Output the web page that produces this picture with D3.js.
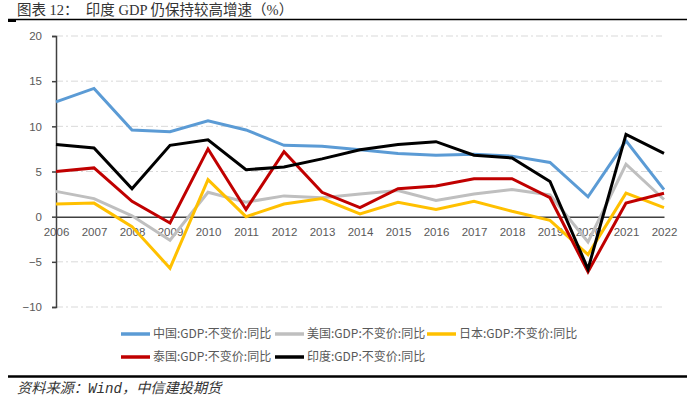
<!DOCTYPE html>
<html><head><meta charset="utf-8">
<script src="https://cdn.jsdelivr.net/npm/d3@7"></script>
<style>
body{margin:0;background:#fff;}
svg{display:block;}
</style></head>
<body>
<svg id="c" width="700" height="399"></svg>
<script>
const years = ["2006","2007","2008","2009","2010","2011","2012","2013","2014","2015","2016","2017","2018","2019","2020","2021","2022"];
const china    = [12.7,14.2,9.6,9.4,10.6,9.6,7.9,7.8,7.4,7.0,6.8,6.9,6.7,6.0,2.2,8.4,3.0];
const usa      = [2.8,2.0,0.1,-2.6,2.7,1.6,2.3,2.1,2.5,2.9,1.8,2.5,3.0,2.4,-2.8,5.8,1.9];
const japan    = [1.4,1.5,-1.1,-5.7,4.1,0.0,1.4,2.0,0.3,1.6,0.8,1.7,0.6,-0.4,-4.2,2.6,1.0];
const thailand = [5.0,5.4,1.7,-0.7,7.5,0.8,7.2,2.7,1.0,3.1,3.4,4.2,4.2,2.1,-6.1,1.5,2.6];
const india    = [8.0,7.6,3.1,7.9,8.5,5.2,5.5,6.4,7.4,8.0,8.3,6.8,6.5,3.9,-5.8,9.1,7.0];
const seriesNames = ["中国:GDP:不变价:同比","美国:GDP:不变价:同比","日本:GDP:不变价:同比","泰国:GDP:不变价:同比","印度:GDP:不变价:同比"];
const yTicks = [-10,-5,0,5,10,15,20];
const titleText = "图表 12：  印度 GDP 仍保持较高增速（%）";
const sourceText = "资料来源：Wind，中信建投期货";

const colors = ["#5B9BD5","#BFBFBF","#FFC000","#C00000","#000000"];
const seriesData = [china, usa, japan, thailand, india];

const svg = d3.select("#c");
const x = d3.scalePoint().domain(years).range([56, 664]);
const y = d3.scaleLinear().domain([-10, 20]).range([307, 36]);

// title
svg.append("text").attr("x", 17).attr("y", 15)
  .attr("font-family", "'Liberation Serif','Noto Sans CJK SC',serif")
  .attr("font-size", 14.5).attr("fill", "#333")
  .style("white-space","pre")
  .text(titleText);
svg.append("line").attr("x1", 8).attr("x2", 687).attr("y1", 19.5).attr("y2", 19.5)
  .attr("stroke", "#000").attr("stroke-width", 1.5);
svg.append("rect").attr("x", 8).attr("y", 19).attr("width", 8).attr("height", 3).attr("fill","#000");

// gridlines
svg.append("g").selectAll("line").data(yTicks.filter(d => d !== 0)).join("line")
  .attr("x1", 56).attr("x2", 662)
  .attr("y1", d => y(d)).attr("y2", d => y(d))
  .attr("stroke", "#D9D9D9").attr("stroke-width", 1)
  .attr("stroke-dasharray", "7,3,2,3");

// y axis
const yAxis = d3.axisLeft(y).tickValues(yTicks).tickSize(4).tickPadding(10);
const gy = svg.append("g").attr("transform", "translate(56,0)").call(yAxis);
gy.select(".domain").attr("stroke", "#404040").attr("stroke-width", 1.5);
gy.selectAll(".tick line").attr("stroke", "#404040").attr("stroke-width", 1.5);
gy.selectAll(".tick text").attr("fill", "#595959")
  .attr("font-family", "'Liberation Sans',Arial,sans-serif").attr("font-size", 11.5);

// x axis at zero
const xAxis = d3.axisBottom(x).tickSize(0).tickPadding(11);
const gx = svg.append("g").attr("transform", `translate(0,${y(0)})`).call(xAxis);
gx.select(".domain").attr("stroke", "#404040").attr("stroke-width", 1.5);
gx.selectAll(".tick text").attr("fill", "#595959")
  .attr("font-family", "'Liberation Sans',Arial,sans-serif").attr("font-size", 11.5);

// lines
const line = d3.line().x((d, i) => x(years[i])).y(d => y(d));
svg.append("g").selectAll("path").data(seriesData).join("path")
  .attr("d", d => line(d))
  .attr("fill", "none")
  .attr("stroke", (d, i) => colors[i])
  .attr("stroke-width", 3)
  .attr("stroke-linejoin", "miter");

// legend
const legendPos = [
  {lx:121, ly:334},{lx:275, ly:334},{lx:427, ly:334},
  {lx:121, ly:357},{lx:275, ly:357}
];
const lg = svg.append("g").selectAll("g").data(seriesNames).join("g")
  .attr("transform", (d, i) => `translate(${legendPos[i].lx},${legendPos[i].ly})`);
lg.append("line").attr("x1", 0).attr("x2", 29).attr("y1", 0).attr("y2", 0)
  .attr("stroke", (d, i) => colors[i]).attr("stroke-width", 3.5);
lg.append("text").attr("x", 32).attr("y", 0).attr("dy", "0.36em")
  .attr("font-family", "'Noto Sans CJK SC',sans-serif").attr("font-size", 12)
  .attr("fill", "#595959").text(d => d);

// bottom rule and source
svg.append("line").attr("x1", 8).attr("x2", 687).attr("y1", 376.5).attr("y2", 376.5)
  .attr("stroke", "#000").attr("stroke-width", 2.5);
svg.append("text").attr("x", 17).attr("y", 393)
  .attr("font-family", "'Liberation Mono','Noto Sans CJK SC',monospace")
  .attr("font-size", 14.2).attr("font-style", "italic").attr("fill", "#333")
  .text(sourceText);
</script>
</body></html>
